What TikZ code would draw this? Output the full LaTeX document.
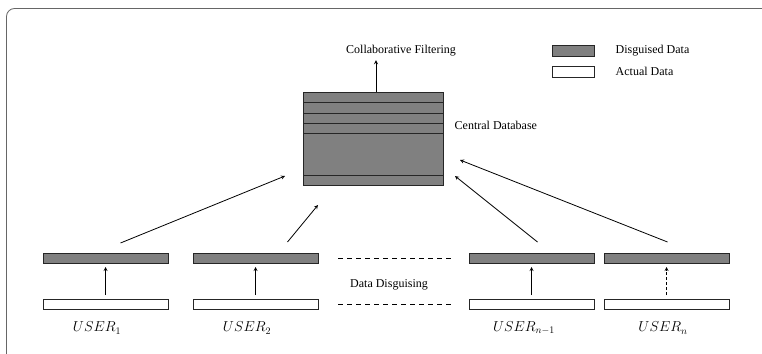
\documentclass[tikz,border=0pt]{standalone}
\usepackage{fontspec}
\setmainfont{Liberation Serif}
\usetikzlibrary{positioning}

\begin{document}
\begin{tikzpicture}[
            x=1pt, y=-1pt,
            >=stealth,
            line width=0.8pt,
            font=\fontsize{12}{14}\selectfont,
            bar/.style={draw=black!85, rectangle, inner sep=0, outer sep=0,
                            minimum height=10pt, minimum width=125pt},
            dis/.style={bar, fill=black!50},
            act/.style={bar, fill=white},
            row/.style={draw=black!85, fill=black!50, rectangle, inner sep=0,
                            outer sep=0, minimum width=140pt},
            keybox/.style={draw=black!85, rectangle, inner sep=0,
                            minimum height=11pt, minimum width=42pt},
            user/.style={font=\fontsize{14}{16}\selectfont}
        ]

            \clip (0,0) rectangle (762,353);
            \draw[rounded corners=8pt, draw=black!60] (6.5,8.5) rectangle (800,400);

            % central database
            \node[row, minimum height=10pt] (r1) at (373,97) {};
            \node[row, minimum height=11pt, below=0pt of r1] (r2) {};
            \node[row, minimum height=10pt, below=0pt of r2] (r3) {};
            \node[row, minimum height=10pt, below=0pt of r3] (r4) {};
            \node[row, minimum height=42pt, below=0pt of r4] (r5) {};
            \node[row, minimum height=10pt, below=0pt of r5] (r6) {};
            \node[anchor=west] (dbl) at (451,125) {Central Database};

            \node (cf) at (401,51) {Collaborative Filtering};
            \draw[->] ([xshift=3pt]r1.north) -- ([xshift=3pt]r1.north |- cf.south);

            % legend
            \node[keybox, fill=black!50] (kd) at (573,50.5) {};
            \node[keybox, fill=white] (ka) at (573,71.5) {};
            \node[anchor=west] at (612,50.5) {Disguised Data};
            \node[anchor=west] at (612,71.5) {Actual Data};

            % users
            \node[dis] (d1) at (105.5,258) {};
            \node[dis, right=25pt of d1] (d2) {};
            \node[dis] (d3) at (531.5,258) {};
            \node[dis, right=10pt of d3] (d4) {};
            \foreach \i in {1,...,4}
                \node[act, below=36pt of d\i] (a\i) {};

            \foreach \i in {1,2,3}
                \draw[->, shorten <=4pt, shorten >=4pt] (a\i) -- (d\i);
            \draw[->, densely dashed, shorten <=4pt, shorten >=4pt] (a4) -- (d4);

            \node[user] (u1) at (97,328) {$USER_1$};
            \node[user] (u2) at (247,328) {$USER_2$};
            \node[user] (u3) at (524,328) {$USER_{n-1}$};
            \node[user] (u4) at (663,328) {$USER_n$};

            \draw[dash pattern=on 5pt off 4pt] ([xshift=20pt]d2.east) -- ([xshift=-17pt]d3.west);
            \draw[dash pattern=on 5pt off 4pt] ([xshift=20pt]a2.east) -- ([xshift=-17pt]a3.west);
            \node (dd) at (389,285) {Data Disguising};

            % uploads to the database
            \coordinate (t1) at (285,176);
            \coordinate (t2) at (318,205);
            \coordinate (t3) at (455,176);
            \coordinate (t4) at (460,160);
            \draw[->] ([shift={(15,-10)}]d1.north) -- (t1);
            \draw[->] ([shift={(32,-11)}]d2.north) -- (t2);
            \draw[->] ([shift={(6,-11)}]d3.north) -- (t3);
            \draw[->] ([shift={(1,-11)}]d4.north) -- (t4);

        \end{tikzpicture}
\end{document}
